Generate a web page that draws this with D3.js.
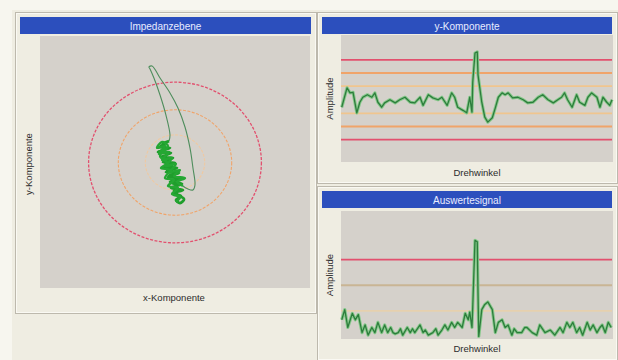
<!DOCTYPE html>
<html><head><meta charset="utf-8">
<script src="https://cdn.jsdelivr.net/npm/d3@7"></script>
<style>
html,body{margin:0;padding:0;background:#f7f6ef;}
svg{display:block;font-family:"Liberation Sans",Arial,sans-serif;}
</style></head>
<body>
<svg id="c" width="618" height="360"></svg>
<script>
// ---------- data ----------
const panelTitles = ["Impedanzebene", "y-Komponente", "Auswertesignal"];
const impXLabel = "x-Komponente", impYLabel = "y-Komponente";
const sigXLabel = "Drehwinkel", sigYLabel = "Amplitude";

// Impedance plane trace (x-Komponente, y-Komponente)
const impX = [-6.7,-11.1,-3.7,-12.6,-3.0,-10.4,-1.5,-8.9,0,-8.1,1.5,-6.7,3.0,-5.2,4.4,-3.7,5.2,-3.0,5.9,-1.5,4.4,0.7,3.7,6.7,
  2.2,-0.7,2.2,-2.2,0.7,-4.4,-0.7,-5.9,-2.2,-7.4,-3.7,-8.9,-5.2,-10.4,-6.7,-8.9,-4.4,
  -3.7,-6.7,-11.1,-15.6,-18.5,-19.3,-17,-11.1,-3.7,2.2,7.4,11.1,13.3,14.8,13.3,9.6,5.9,
  1.5,7.4,-0.7,3.7,-3.7,0.7,-6.7,-2.2,-9.6,-4.4,-11.9,-7.4,-13.3,-9.6,-5.2,-11.1,-5.9,-10.4,-3.7,-7.4,-0.7,-5.2,2.2,-2.2,3.7,0.7];
const impY = [15.5,12.4,11.6,8.4,7.6,4.4,3.6,0.4,-0.4,-3.6,-4.4,-7.6,-8.4,-11.6,-12.4,-15.5,-17.1,-20.3,-21.9,-24.3,-26.7,-29.9,-32.3,-29.1,
  -25.9,-21.9,-17.9,-16.3,-13.1,-10.8,-7.6,-6.0,-2.8,-0.4,2.0,4.4,6.8,9.2,11.6,14.7,17.1,
  21.9,37.8,53.8,67.3,74.5,76.1,76.9,67.3,55.4,43.4,28.3,11.6,-4.4,-17.9,-21.9,-21.1,-18.7,
  -15.5,-12.4,-10.8,-6.0,-7.6,-1.2,-2.8,3.6,2.0,8.4,6.8,13.1,11.6,16.3,13.1,5.2,-0.4,-4.4,-6.0,-12.4,-13.9,-18.7,-20.3,-25.1,-27.5,-31.5];
const impThresholds = [22, 42, 64];

// y-Komponente signal
const topAngle = [1,8,12,16,21,25,29,35,41,45,49,54,58,65,72,78,85,92,98,105,109,116,122,129,134,141,147,151,155,162,167,171,174,175,178,181,182,187,191,195,201,205,209,214,218,222,228,235,242,248,255,262,268,275,282,288,293,297,301,307,313,317,324,328,333,340,344,348,353,357,360];
const topAmp = [-12,19,11,12,-21,-4,4,8,4,11,-4,-12,-5,0,-5,0,4,-4,-5,4,-9,8,3,0,4,-9,11,4,-12,-17,-21,4,-20,28,75,77,40,-4,-28,-36,-29,-13,4,11,8,11,3,4,0,-5,-4,4,8,0,-5,0,4,11,0,-12,8,-4,-9,4,11,4,-12,4,-4,-9,0];
const topThresholds = [22, 43, 64];

// Auswertesignal
const botAngle = [1,5,9,15,19,23,28,32,36,41,45,49,54,58,62,66,69,72,76,79,82,88,92,95,98,105,109,112,116,122,126,129,134,138,142,147,151,155,161,165,169,171,174,175,178,181,182,183,187,191,195,201,205,209,214,218,222,227,230,234,240,244,247,254,260,264,271,278,284,291,295,300,304,308,313,317,321,327,331,335,340,344,347,351,355,359];
const botAmp = [15,23,9,20,15,19,5,11,3,9,5,13,5,11,5,9,5,4,5,8,3,9,5,8,5,11,5,7,3,5,8,3,7,11,7,13,9,13,9,20,15,21,9,25,77,76,36,2,23,27,29,23,5,13,15,9,11,3,8,5,5,9,9,5,3,11,5,7,3,9,5,13,9,13,5,9,3,13,7,11,5,9,11,5,13,9];
const botThresholds = [22, 42, 62];

// ---------- drawing ----------
const svg = d3.select("#c");
const C = {
  bg: "#f7f6ef", panel: "#efede2", border: "#bdb9ad", title: "#2c4fbd",
  plot: "#d5d1cb", red: "#e2506e", orange: "#f0a46a", tan: "#f0c58e",
  tan2: "#c9b594", dark: "#2c2c2c"
};

svg.append("rect").attr("width", 618).attr("height", 360).attr("fill", C.bg);
svg.append("rect").attr("x", 12).attr("y", 10).attr("width", 606).attr("height", 350).attr("fill", C.panel);

function panel(x, y, w, h, title, plot) {
  const g = svg.append("g");
  g.append("rect").attr("x", x + 0.5).attr("y", y + 0.5).attr("width", w).attr("height", h)
    .attr("fill", C.panel).attr("stroke", C.border);
  g.append("rect").attr("x", x + 1.5).attr("y", y + 1.5).attr("width", w - 2).attr("height", h - 2)
    .attr("fill", "none").attr("stroke", "#faf9f3");
  g.append("rect").attr("x", x + 5).attr("y", y + 5).attr("width", w - 10).attr("height", 17).attr("fill", C.title);
  g.append("text").attr("x", x + w / 2).attr("y", y + 17.5).attr("text-anchor", "middle")
    .attr("fill", "#e8ecff").attr("font-size", 10).text(title);
  g.append("rect").attr("x", plot[0]).attr("y", plot[1]).attr("width", plot[2]).attr("height", plot[3]).attr("fill", C.plot);
  return g;
}

// ----- left: Impedanzebene -----
const gL = panel(15, 12, 301, 301, panelTitles[0], [40, 36, 270, 252]);
const xImp = d3.scaleLinear([-100, 100], [40, 310]);
const yImp = d3.scaleLinear([-100, 100], [288, 37]);
const ringColors = ["#efc9a2", C.orange, C.red];
impThresholds.forEach((r, i) => {
  gL.append("ellipse").attr("cx", xImp(0)).attr("cy", yImp(0))
    .attr("rx", xImp(r) - xImp(0)).attr("ry", yImp(0) - yImp(r))
    .attr("fill", "none").attr("stroke", ringColors[i]).attr("stroke-width", i === 2 ? 1.3 : 1.1)
    .attr("stroke-dasharray", "3,1.5");
});
const impPts = impX.map((v, i) => [v, impY[i]]);
const impLine = d3.line().x(d => xImp(d[0])).y(d => yImp(d[1])).curve(d3.curveCatmullRom.alpha(0.5));
const impCurve = d3.line().x(d => xImp(d[0])).y(d => yImp(d[1])).curve(d3.curveCatmullRom);
// loop part (thin) then dense cluster (bright)
gL.append("path").attr("d", impCurve(impPts.slice(40, 58))).attr("fill", "none")
  .attr("stroke", "#4e8d5c").attr("stroke-width", 1.1);
gL.append("path").attr("d", impLine(impPts.slice(0, 41))).attr("fill", "none")
  .attr("stroke", "#1f9e2c").attr("stroke-width", 2.8).attr("stroke-linejoin", "round");
gL.append("path").attr("d", impLine(impPts.slice(57))).attr("fill", "none")
  .attr("stroke", "#25a733").attr("stroke-width", 2.4).attr("stroke-linejoin", "round");
gL.append("text").attr("x", 174).attr("y", 301).attr("text-anchor", "middle")
  .attr("font-size", 9.5).attr("fill", C.dark).text(impXLabel);
gL.append("text").attr("transform", "translate(32,164) rotate(-90)").attr("text-anchor", "middle")
  .attr("font-size", 9.5).attr("fill", C.dark).text(impYLabel);

// ----- right: signal panels -----
function signalPanel(y0, h, title, plotY, plotH, xs, ys, xData, yData, levels, levelColors, labelY) {
  const g = panel(317, y0, 300, h, title, [341, plotY, 272, plotH]);
  levels.forEach((lv, i) => {
    g.append("line").attr("x1", 341).attr("x2", 612).attr("y1", ys(lv)).attr("y2", ys(lv))
      .attr("stroke", levelColors[i]).attr("stroke-width", 1.8);
  });
  const pts = xData.map((v, i) => [v, yData[i]]);
  const ln = d3.line().x(d => xs(d[0])).y(d => ys(d[1]));
  g.append("path").attr("d", ln(pts)).attr("fill", "none").attr("stroke", "#86c98a")
    .attr("stroke-width", 3.2).attr("stroke-linejoin", "round");
  g.append("path").attr("d", ln(pts)).attr("fill", "none").attr("stroke", "#2d7c3c")
    .attr("stroke-width", 1.3).attr("stroke-linejoin", "round");
  g.append("text").attr("x", 477).attr("y", labelY).attr("text-anchor", "middle")
    .attr("font-size", 9.5).attr("fill", C.dark).text(sigXLabel);
  g.append("text").attr("transform", `translate(333,${plotY + plotH / 2}) rotate(-90)`)
    .attr("text-anchor", "middle").attr("font-size", 9.5).attr("fill", C.dark).text(sigYLabel);
  return g;
}
const xTop = d3.scaleLinear([0, 360], [341, 612]);
const yTop = d3.scaleLinear([-100, 104], [162, 35]);
const topLevels = [], topColors = [];
[C.tan, C.orange, C.red].forEach((c, i) => {
  topLevels.push(topThresholds[i], -topThresholds[i]); topColors.push(c, c);
});
signalPanel(12, 171, panelTitles[1], 35, 127, xTop, yTop, topAngle, topAmp, topLevels, topColors, 176);

const xBot = d3.scaleLinear([0, 360], [341, 612]);
const yBot = d3.scaleLinear([0, 100], [339, 211]);
signalPanel(186, 174, panelTitles[2], 211, 128, xBot, yBot, botAngle, botAmp, botThresholds,
  ["#e6d0ae", C.tan2, C.red], 352);
</script>
</body></html>
